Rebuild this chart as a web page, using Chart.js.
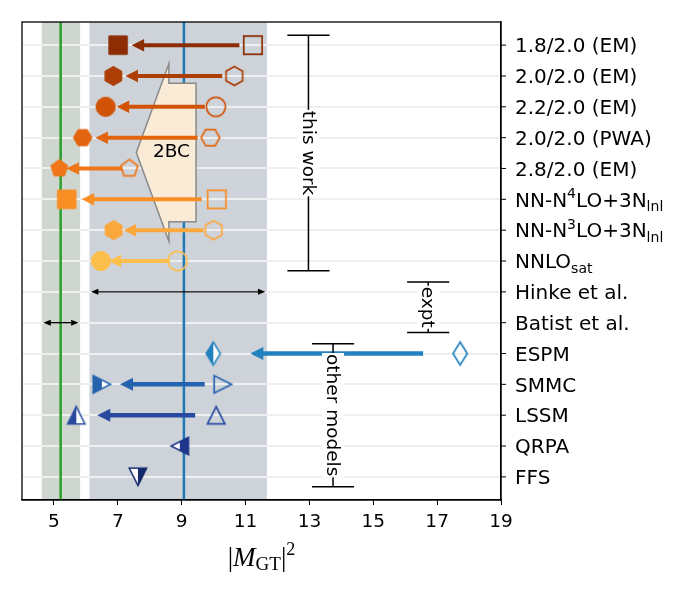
<!DOCTYPE html>
<html>
<head>
<meta charset="utf-8">
<script src="https://cdn.jsdelivr.net/npm/chart.js@4.4.1/dist/chart.umd.min.js"></script>
<style>
  html, body { margin: 0; padding: 0; background: #fff; }
</style>
</head>
<body>
<canvas id="grafica" width="689" height="592"></canvas>
<script>
// Categorias (de arriba a abajo) y ticks del eje x
const categorias = ['1.8/2.0 (EM)', '2.0/2.0 (EM)', '2.2/2.0 (EM)', '2.0/2.0 (PWA)', '2.8/2.0 (EM)',
    'NN-N^{4}LO+3N_{lnl}', 'NN-N^{3}LO+3N_{lnl}', 'NNLO_{sat}', 'Hinke et al.', 'Batist et al.',
    'ESPM', 'SMMC', 'LSSM', 'QRPA', 'FFS'];
const xTicks = [5, 7, 9, 11, 13, 15, 17, 19];

// ab initio (filas 0-7): sin y con corrientes de dos cuerpos
const sin2BC = [11.23, 10.65, 10.07, 9.90, 7.36, 10.10, 10.00, 8.87];
const con2BC = [7.01, 6.86, 6.62, 5.90, 5.17, 5.40, 6.87, 6.47];

// experimentos (filas 8-9)
const exptFilas = [8, 9];
const exptCentral = [9.07, 5.21];
const exptBajo = [6.11, 4.62];
const exptAlto = [11.67, 5.82];

// otros modelos (filas 10-14)
const modelosFilas = [10, 11, 12, 13, 14];
const modelosCon = [9.99, 6.50, 5.70, 8.94, 7.63];
const modelosSin = [17.72, 10.29, 10.08, null, null];

// flecha grande "2BC" (unidades de datos)
const flecha2BC = { desde: 9.45, hasta: 7.58, fila: 3.48, ancho: 4.49, anchoCabeza: 5.76, largoCabeza: 1.02 };

// corchetes de grupo
const grupos = ['this work', 'expt', 'other models'];
const grupoX = [12.97, 16.72, 13.74];
const grupoDesde = [0, 8, 10];
const grupoHasta = [7, 9, 14];

// estilos
const coloresAbInitio = ['#8c2d04', '#ac3e06', '#d15307', '#e2640e', '#ef7519', '#f98e24', '#fca73b', '#fdbf4b'];
const formasAbInitio = ['s', 'h', 'o', 'H', 'p', 's', 'h', 'o'];
const coloresModelos = ['#2281bf', '#2563ae', '#2a4aa2', '#20368a', '#142a6a'];
const formasModelos = ['d', '>', '^', '<', 'v'];
const mitadModelos = ['left', 'left', 'left', 'right', 'right'];
const coloresExpt = ['#1f77b4', '#2ca02c'];
const coloresBanda = ['#cdd3d9', '#cfd6cf'];
const FUENTE = '"DejaVu Sans", sans-serif';
const TAM = 18.5;
const TAM_Y = 20;

const radios = { s: 9.2, o: 9.6, h: 9.6, H: 9.3, p: 9, d: 11.5, '>': 8.7, '<': 8.7, '^': 8.7, 'v': 8.7 };

function trazarForma(c, forma, cx, cy, r) {
    c.beginPath();
    if (forma === 'o') {
        c.arc(cx, cy, r, 0, Math.PI * 2);
        return;
    }
    if (forma === 's') {
        c.rect(cx - r, cy - r, 2 * r, 2 * r);
        return;
    }
    let pts = [];
    if (forma === 'h') for (let k = 0; k < 6; k++) { const a = (-90 + 60 * k) * Math.PI / 180; pts.push([Math.cos(a), Math.sin(a)]); }
    if (forma === 'H') for (let k = 0; k < 6; k++) { const a = (60 * k) * Math.PI / 180; pts.push([Math.cos(a), Math.sin(a)]); }
    if (forma === 'p') for (let k = 0; k < 5; k++) { const a = (-90 + 72 * k) * Math.PI / 180; pts.push([Math.cos(a), Math.sin(a)]); }
    if (forma === 'd') pts = [[0, -1], [0.62, 0], [0, 1], [-0.62, 0]];
    if (forma === '>') pts = [[1, 0], [-1, -1], [-1, 1]];
    if (forma === '<') pts = [[-1, 0], [1, -1], [1, 1]];
    if (forma === '^') pts = [[0, -1], [1, 1], [-1, 1]];
    if (forma === 'v') pts = [[0, 1], [-1, -1], [1, -1]];
    pts.forEach((p, i) => {
        if (i === 0) c.moveTo(cx + p[0] * r, cy + p[1] * r);
        else c.lineTo(cx + p[0] * r, cy + p[1] * r);
    });
    c.closePath();
}

// marcador como canvas para pointStyle
function marcador(forma, color, modo) {
    const cv = document.createElement('canvas');
    cv.width = 32; cv.height = 32;
    const c = cv.getContext('2d');
    const r = radios[forma];
    c.lineJoin = 'miter';
    if (modo === 'lleno') {
        trazarForma(c, forma, 16, 16, r);
        c.fillStyle = color; c.fill();
        c.strokeStyle = color; c.lineWidth = 1; c.stroke();
    } else if (modo === 'vacio') {
        trazarForma(c, forma, 16, 16, r);
        c.strokeStyle = color; c.lineWidth = 1.7; c.stroke();
    } else {
        trazarForma(c, forma, 16, 16, r);
        c.fillStyle = '#fff'; c.fill();
        c.save();
        c.beginPath();
        if (modo === 'left') c.rect(0, 0, 16, 32); else c.rect(16, 0, 16, 32);
        c.clip();
        trazarForma(c, forma, 16, 16, r);
        c.fillStyle = color; c.fill();
        c.restore();
        trazarForma(c, forma, 16, 16, r);
        c.strokeStyle = color; c.lineWidth = 1.5; c.stroke();
    }
    return cv;
}

function flecha(ctx, x1, y, x2, color, lw, largo, ancho) {
    const dir = Math.sign(x2 - x1);
    ctx.strokeStyle = color; ctx.fillStyle = color; ctx.lineWidth = lw;
    ctx.beginPath();
    ctx.moveTo(x1, y); ctx.lineTo(x2 - dir * largo * 0.8, y);
    ctx.stroke();
    ctx.beginPath();
    ctx.moveTo(x2, y);
    ctx.lineTo(x2 - dir * largo, y - ancho / 2);
    ctx.lineTo(x2 - dir * largo, y + ancho / 2);
    ctx.closePath();
    ctx.fill();
}

function partes(txt) {
    const out = [];
    const re = /(\^|_)\{([^}]*)\}|([^\^_]+)/g;
    let m;
    while ((m = re.exec(txt))) {
        if (m[3]) out.push({ t: m[3], k: 'n' });
        else out.push({ t: m[2], k: m[1] === '^' ? 'sup' : 'sub' });
    }
    return out;
}

const dibujos = {
    id: 'dibujos',
    beforeDraw(chart) {
        const { ctx, chartArea: a, scales: { x } } = chart;
        ctx.save();
        exptFilas.forEach((f, i) => {
            ctx.fillStyle = coloresBanda[i];
            const x1 = x.getPixelForValue(exptBajo[i]), x2 = x.getPixelForValue(exptAlto[i]);
            ctx.fillRect(x1, a.top, x2 - x1, a.bottom - a.top);
        });
        ctx.restore();
    },
    beforeDatasetsDraw(chart) {
        const { ctx, chartArea: a, scales: { x, y } } = chart;
        ctx.save();
        // lineas verticales de los valores experimentales
        exptFilas.forEach((f, i) => {
            const px = x.getPixelForValue(exptCentral[i]);
            ctx.strokeStyle = coloresExpt[i]; ctx.lineWidth = 2.5;
            ctx.beginPath(); ctx.moveTo(px, a.top); ctx.lineTo(px, a.bottom); ctx.stroke();
        });
        // flecha grande 2BC
        const F = flecha2BC;
        const base = F.hasta + F.largoCabeza;
        const poly = [[F.hasta, F.fila], [base, F.fila - F.anchoCabeza / 2], [base, F.fila - F.ancho / 2],
            [F.desde, F.fila - F.ancho / 2], [F.desde, F.fila + F.ancho / 2], [base, F.fila + F.ancho / 2],
            [base, F.fila + F.anchoCabeza / 2]];
        ctx.beginPath();
        poly.forEach((p, i) => {
            const px = x.getPixelForValue(p[0]), py = y.getPixelForValue(p[1]);
            if (i === 0) ctx.moveTo(px, py); else ctx.lineTo(px, py);
        });
        ctx.closePath();
        ctx.fillStyle = '#faebd7'; ctx.fill();
        ctx.strokeStyle = '#8a8a8a'; ctx.lineWidth = 1.5; ctx.stroke();
        ctx.fillStyle = '#000';
        ctx.font = TAM + 'px ' + FUENTE;
        ctx.textAlign = 'center'; ctx.textBaseline = 'middle';
        ctx.fillText('2BC', x.getPixelForValue(8.68), y.getPixelForValue(F.fila));

        // flechas ab initio
        sin2BC.forEach((v, i) => {
            const p1 = x.getPixelForValue(v), p2 = x.getPixelForValue(con2BC[i]);
            const L = p1 - p2;
            flecha(ctx, p1 - 0.1 * L, y.getPixelForValue(i), p2 + 0.1 * L, coloresAbInitio[i], 4, 12.5, 12.5);
        });
        // flechas otros modelos
        modelosSin.forEach((v, i) => {
            if (v === null) return;
            const p1 = x.getPixelForValue(v), p2 = x.getPixelForValue(modelosCon[i]);
            const L = p1 - p2;
            flecha(ctx, p1 - 0.15 * L, y.getPixelForValue(modelosFilas[i]), p2 + 0.15 * L, coloresModelos[i], 4.5, 13, 13);
        });
        // flechas dobles experimentales
        exptFilas.forEach((f, i) => {
            const x1 = x.getPixelForValue(exptBajo[i]) + 1.5, x2 = x.getPixelForValue(exptAlto[i]) - 1.5;
            const py = y.getPixelForValue(f);
            const xm = (x1 + x2) / 2;
            flecha(ctx, xm, py, x2, '#000', 1.4, 7.5, 6);
            flecha(ctx, xm, py, x1, '#000', 1.4, 7.5, 6);
        });
        ctx.restore();
    },
    afterDatasetsDraw(chart) {
        const { ctx, scales: { x, y } } = chart;
        ctx.save();
        grupos.forEach((g, i) => {
            const px = x.getPixelForValue(grupoX[i]);
            const y1 = y.getPixelForValue(grupoDesde[i] - 0.32), y2 = y.getPixelForValue(grupoHasta[i] + 0.32);
            const cap = x.getPixelForValue(grupoX[i] + 0.66) - px;
            ctx.strokeStyle = '#000'; ctx.lineWidth = 1.5;
            ctx.beginPath();
            ctx.moveTo(px, y1); ctx.lineTo(px, y2);
            ctx.moveTo(px - cap, y1); ctx.lineTo(px + cap, y1);
            ctx.moveTo(px - cap, y2); ctx.lineTo(px + cap, y2);
            ctx.stroke();
            ctx.save();
            ctx.translate(px, (y1 + y2) / 2);
            ctx.rotate(Math.PI / 2);
            ctx.font = TAM + 'px ' + FUENTE;
            const w = ctx.measureText(g).width;
            ctx.fillStyle = '#fff';
            ctx.fillRect(-w / 2 - 1, -11, w + 2, 22);
            ctx.fillStyle = '#000';
            ctx.textAlign = 'center'; ctx.textBaseline = 'middle';
            ctx.fillText(g, 0, 1);
            ctx.restore();
        });
        ctx.restore();
    },
    afterDraw(chart) {
        const { ctx, chartArea: a, scales: { y } } = chart;
        ctx.save();
        // marco
        ctx.strokeStyle = '#000'; ctx.lineWidth = 1.3;
        ctx.strokeRect(a.left, a.top, a.right - a.left, a.bottom - a.top);
        // ticks y etiquetas del eje derecho
        categorias.forEach((lab, i) => {
            const py = y.getPixelForValue(i);
            ctx.strokeStyle = '#000'; ctx.lineWidth = 1;
            ctx.beginPath(); ctx.moveTo(a.right, py); ctx.lineTo(a.right + 5, py); ctx.stroke();
            let px = a.right + 14;
            const base = py + 0.36 * TAM_Y;
            ctx.fillStyle = '#000'; ctx.textAlign = 'left'; ctx.textBaseline = 'alphabetic';
            partes(lab).forEach(p => {
                const t = p.k === 'n' ? TAM_Y : TAM_Y * 0.7;
                const dy = p.k === 'sup' ? -0.42 * TAM_Y : (p.k === 'sub' ? 0.22 * TAM_Y : 0);
                ctx.font = t + 'px ' + FUENTE;
                ctx.fillText(p.t, px, base + dy);
                px += ctx.measureText(p.t).width;
            });
        });
        // titulo del eje x: |M_GT|^2
        const trozos = [
            { t: '|', f: '27px "Liberation Serif", serif', dy: 0 },
            { t: 'M', f: 'italic 27px "Liberation Serif", serif', dy: 0 },
            { t: 'GT', f: '19px "Liberation Serif", serif', dy: 4 },
            { t: '|', f: '27px "Liberation Serif", serif', dy: 0 },
            { t: '2', f: '18px "Liberation Serif", serif', dy: -11 }
        ];
        let total = 0;
        trozos.forEach(tr => { ctx.font = tr.f; total += ctx.measureText(tr.t).width; });
        let px = (a.left + a.right) / 2 - total / 2;
        ctx.fillStyle = '#000'; ctx.textAlign = 'left'; ctx.textBaseline = 'alphabetic';
        trozos.forEach(tr => {
            ctx.font = tr.f;
            ctx.fillText(tr.t, px, 566 + tr.dy);
            px += ctx.measureText(tr.t).width;
        });
        ctx.restore();
    }
};

const ctx = document.getElementById('grafica').getContext('2d');
const grafica = new Chart(ctx, {
    type: 'scatter',
    data: {
        datasets: [
            {
                label: 'con 2BC',
                data: con2BC.map((v, i) => ({ x: v, y: i })),
                pointStyle: formasAbInitio.map((f, i) => marcador(f, coloresAbInitio[i], 'lleno')),
                pointRadius: 10
            },
            {
                label: 'sin 2BC',
                data: sin2BC.map((v, i) => ({ x: v, y: i })),
                pointStyle: formasAbInitio.map((f, i) => marcador(f, coloresAbInitio[i], 'vacio')),
                pointRadius: 10
            },
            {
                label: 'modelos',
                data: modelosCon.map((v, i) => ({ x: v, y: modelosFilas[i] })),
                pointStyle: formasModelos.map((f, i) => marcador(f, coloresModelos[i], mitadModelos[i])),
                pointRadius: 10
            },
            {
                label: 'modelos sin',
                data: modelosSin.map((v, i) => ({ x: v, y: modelosFilas[i] })).filter(p => p.x !== null),
                pointStyle: formasModelos.filter((f, i) => modelosSin[i] !== null).map((f, i) => marcador(f, coloresModelos[i], 'vacio')),
                pointRadius: 10
            }
        ]
    },
    options: {
        responsive: false,
        animation: false,
        events: [],
        devicePixelRatio: 1,
        layout: { padding: { left: 22, top: 22, right: 0, bottom: 0 } },
        plugins: {
            legend: { display: false },
            tooltip: { enabled: false }
        },
        scales: {
            x: {
                type: 'linear',
                min: 4, max: 19,
                afterBuildTicks: s => { s.ticks = xTicks.map(v => ({ value: v })); },
                afterFit: s => { s.height = 92; },
                ticks: { color: '#000', font: { family: 'DejaVu Sans', size: TAM }, padding: 6, autoSkip: false, maxRotation: 0 },
                grid: { drawOnChartArea: false, drawTicks: true, tickLength: 5, color: '#000', lineWidth: 1 },
                border: { display: true, color: '#000', width: 1.3 }
            },
            y: {
                type: 'linear',
                position: 'right',
                reverse: true,
                min: -0.75, max: 14.75,
                afterBuildTicks: s => { s.ticks = categorias.map((c, i) => ({ value: i })); },
                afterFit: s => { s.width = 188; },
                ticks: { display: false },
                grid: { color: '#efefef', lineWidth: 2, drawTicks: false },
                border: { display: true, color: '#000', width: 1.3 }
            }
        }
    },
    plugins: [dibujos]
});
</script>
</body>
</html>
